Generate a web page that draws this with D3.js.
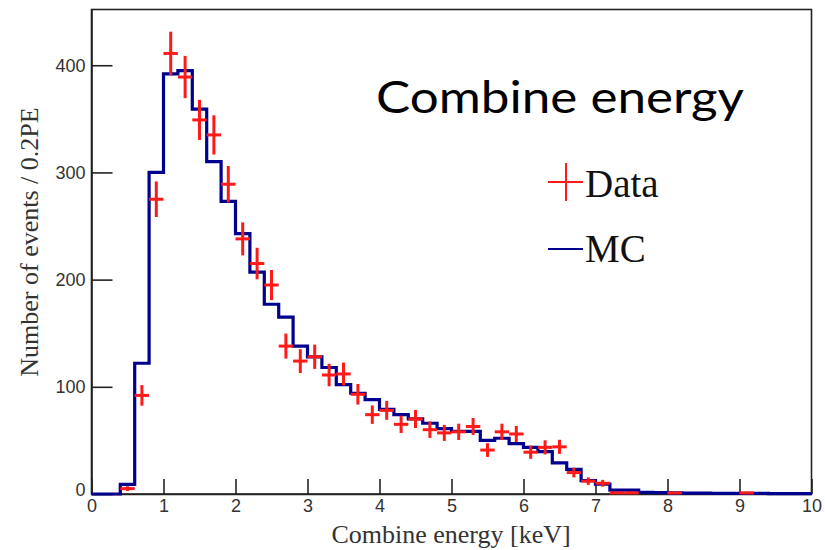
<!DOCTYPE html>
<html>
<head>
<meta charset="utf-8">
<script src="https://cdn.jsdelivr.net/npm/d3@7"></script>
<style>
  html, body { margin: 0; padding: 0; background: #fff; }
  svg { display: block; }
</style>
</head>
<body>
<svg id="chart" width="825" height="550"></svg>
<script>
// ---- Data ----
const binWidth = 0.2;
// MC histogram: bin low edges 0.0, 0.2, ..., 9.8
const mcValues = [
  0, 0, 9, 122, 300, 392, 395, 359, 310, 273,
  243, 207, 177, 165, 138, 128, 118, 102, 94, 88,
  79, 74, 70, 66, 61, 58.5, 58.5, 50, 52, 47,
  43.5, 39.5, 29, 23, 12.5, 9.3, 3.7, 3.7, 1.5, 1.3,
  1.0, 0.8, 0.8, 0.6, 0.6, 0.5, 0.5, 0.4, 0.4, 0.4
];
// Data points: bin centres, counts, errors
const dataX = [0.5, 0.7, 0.9, 1.1, 1.3, 1.5, 1.7, 1.9, 2.1, 2.3,
  2.5, 2.7, 2.9, 3.1, 3.3, 3.5, 3.7, 3.9, 4.1, 4.3,
  4.5, 4.7, 4.9, 5.1, 5.3, 5.5, 5.7, 5.9, 6.1, 6.3,
  6.5, 6.7, 6.9, 7.1, 7.3, 7.5, 8.1, 9.1];
const dataY = [5, 92, 275, 411, 389, 349, 335, 289, 238, 215,
  195, 138, 124, 128, 111, 112, 93, 74, 78, 65,
  70, 60, 57, 58, 63, 41, 58, 56, 39, 43.5,
  44, 20, 12, 10, 1, 1, 1, 1];
const dataErr = [2.2, 9.6, 16.6, 20.3, 19.7, 18.7, 18.3, 17, 15.4, 14.7,
  14, 11.7, 11.1, 11.3, 10.5, 10.6, 9.6, 8.6, 8.8, 8.1,
  8.4, 7.7, 7.5, 7.6, 7.9, 6.4, 7.6, 7.5, 6.2, 6.6,
  6.6, 4.5, 3.5, 3.2, 1, 1, 1, 1];
const xTicks = [0, 1, 2, 3, 4, 5, 6, 7, 8, 9, 10];
const yTicks = [0, 100, 200, 300, 400];
const titleText = "Combine energy";
const xTitle = "Combine energy [keV]";
const yTitle = "Number of events / 0.2PE";
const legendLabels = ["Data", "MC"];

// ---- Layout ----
const svg = d3.select("#chart");
const x = d3.scaleLinear().domain([0, 10]).range([91.5, 811.5]);
const y = d3.scaleLinear().domain([0, 452]).range([494, 9.5]);

const axisColor = "#222";
const red = "#ff1a1a";
const blue = "#00008f";

// Frame
svg.append("rect")
  .attr("x", x(0)).attr("y", y(452))
  .attr("width", x(10) - x(0)).attr("height", y(0) - y(452))
  .attr("fill", "none").attr("stroke", axisColor).attr("stroke-width", 1.6);

// X axis
const gx = svg.append("g").attr("transform", `translate(0,${y(0)})`)
  .call(d3.axisBottom(x).tickValues(xTicks).tickSizeInner(-15).tickSizeOuter(0).tickPadding(5)
    .tickFormat(d3.format("d")));
gx.select(".domain").attr("stroke", axisColor).attr("stroke-width", 1.6);
gx.selectAll(".tick line").attr("stroke", axisColor).attr("stroke-width", 1.6);
gx.selectAll(".tick text").attr("font-family", "Liberation Sans, Arial, sans-serif")
  .attr("font-size", 18).attr("fill", "#333");

// Y axis
const gy = svg.append("g").attr("transform", `translate(${x(0)},0)`)
  .call(d3.axisLeft(y).tickValues(yTicks).tickSizeInner(-21).tickSizeOuter(0).tickPadding(6)
    .tickFormat(d3.format("d")));
gy.select(".domain").attr("stroke", axisColor).attr("stroke-width", 1.6);
gy.selectAll(".tick line").attr("stroke", axisColor).attr("stroke-width", 1.6);
gy.selectAll(".tick text").attr("font-family", "Liberation Sans, Arial, sans-serif")
  .attr("font-size", 18).attr("fill", "#333");
gy.selectAll(".tick").filter(d => d === 0).select("text").attr("dy", "0.1em");

// MC histogram (step)
const mcPts = mcValues.map((v, i) => [i * binWidth, v]);
mcPts.push([mcValues.length * binWidth, mcValues[mcValues.length - 1]]);
const stepLine = d3.line().x(d => x(d[0])).y(d => y(d[1])).curve(d3.curveStepAfter);
svg.append("path").attr("d", stepLine(mcPts))
  .attr("fill", "none").attr("stroke", blue).attr("stroke-width", 3.2)
  .attr("stroke-linejoin", "miter");

// Data crosses
const gd = svg.append("g").attr("stroke", red).attr("stroke-width", 3);
dataX.forEach((cx, i) => {
  gd.append("line")
    .attr("x1", x(cx - binWidth / 2)).attr("x2", x(cx + binWidth / 2))
    .attr("y1", y(dataY[i])).attr("y2", y(dataY[i]));
  gd.append("line")
    .attr("x1", x(cx)).attr("x2", x(cx))
    .attr("y1", y(dataY[i] - dataErr[i])).attr("y2", y(Math.min(dataY[i] + dataErr[i], 452)));
});

// Title
svg.append("text").attr("x", 376).attr("y", 113)
  .attr("font-family", "Lato, 'Open Sans', sans-serif").attr("font-size", 44)
  .attr("fill", "#000").attr("textLength", 368).attr("lengthAdjust", "spacingAndGlyphs")
  .text(titleText);

// Legend
const lg = svg.append("g");
lg.append("line").attr("x1", 548).attr("x2", 583).attr("y1", 182).attr("y2", 182)
  .attr("stroke", red).attr("stroke-width", 2);
lg.append("line").attr("x1", 566).attr("x2", 566).attr("y1", 163).attr("y2", 201)
  .attr("stroke", red).attr("stroke-width", 2);
lg.append("line").attr("x1", 548).attr("x2", 583).attr("y1", 249).attr("y2", 249)
  .attr("stroke", blue).attr("stroke-width", 2);
lg.append("text").attr("x", 585).attr("y", 197)
  .attr("font-family", "Liberation Serif, 'Times New Roman', serif").attr("font-size", 39)
  .attr("fill", "#111").text(legendLabels[0]);
lg.append("text").attr("x", 585).attr("y", 262)
  .attr("font-family", "Liberation Serif, 'Times New Roman', serif").attr("font-size", 39)
  .attr("fill", "#111").text(legendLabels[1]);

// Axis titles
svg.append("text").attr("x", 451).attr("y", 543).attr("text-anchor", "middle")
  .attr("font-family", "Liberation Serif, 'Times New Roman', serif").attr("font-size", 26)
  .attr("fill", "#333").text(xTitle);
svg.append("text").attr("transform", `translate(38,242) rotate(-90)`).attr("text-anchor", "middle")
  .attr("font-family", "Liberation Serif, 'Times New Roman', serif").attr("font-size", 26)
  .attr("fill", "#333").text(yTitle);
</script>
</body>
</html>
